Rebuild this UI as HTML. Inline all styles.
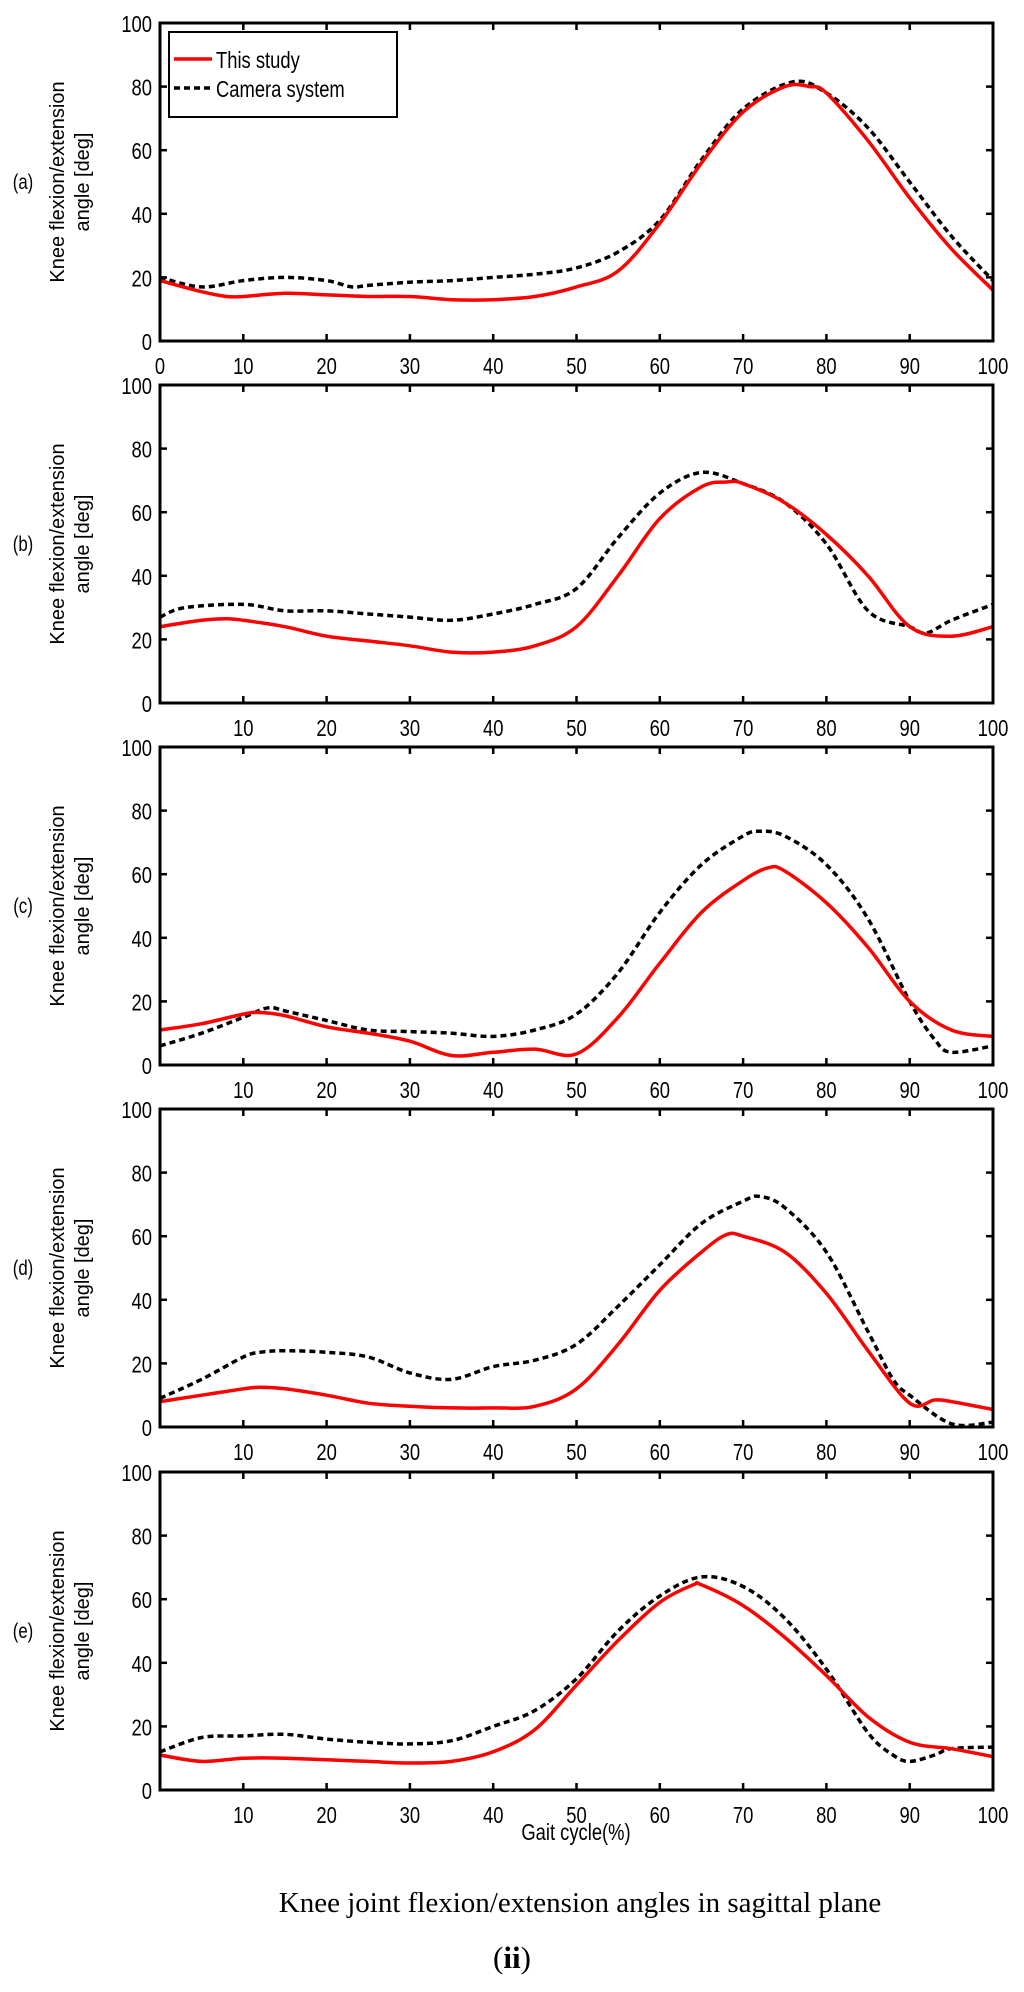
<!DOCTYPE html>
<html><head><meta charset="utf-8"><style>
body{margin:0;background:#fff;}
svg{display:block;}
.t{font-family:"Liberation Sans",sans-serif;font-size:23px;fill:#000;}
</style></head><body>
<svg id="fig" width="1024" height="1992" viewBox="0 0 1024 1992" xmlns="http://www.w3.org/2000/svg">
<text x="580" y="1912" text-anchor="middle" style="font-family:'Liberation Serif',serif;font-size:29px">Knee joint flexion/extension angles in sagittal plane</text>
<text x="512" y="1968" text-anchor="middle" style="font-family:'Liberation Serif',serif;font-size:31px">(<tspan font-weight="bold">ii</tspan>)</text>
<text class="t" x="0" y="0" text-anchor="middle" transform="translate(576,1840) scale(0.8,1)">Gait cycle(%)</text>
</svg>
<script>
const panelLabels=["(a)","(b)","(c)","(d)","(e)"];
const xTicks=[0,10,20,30,40,50,60,70,80,90,100];
const yTicks=[0,20,40,60,80,100];
const redX=[
[0,5,8,10,15,20,25,30,35,40,45,50,55,60,65,70,75,78,80,85,90,95,100],
[0,5,8,10,15,20,25,30,35,40,45,50,55,60,65,68,70,75,80,85,90,95,100],
[0,5,10,12,15,20,25,30,35,40,45,50,55,60,65,70,73,75,80,85,90,95,100],
[0,5,10,12,15,20,25,30,35,40,45,50,55,60,65,68,70,75,80,85,90,93,95,100],
[0,5,10,15,20,25,30,35,40,45,50,55,60,64,65,70,75,80,85,90,95,100]];
const redY=[
[19,15.5,14,14,15,14.5,14,14,13,13,14,17,22,37,56,72,80,80,78,63,45,29,16],
[24,26,26.5,26,24,21,19.5,18,16,16,18,24,40,58,68,69.5,69,63,53,40,24,21,24],
[11,13,16,16.5,15.5,12,10,7.5,3,4,5,3.5,15,32,48,58,62,61,51,37,20,11,9],
[8,10,12,12.5,12,10,7.5,6.5,6,6,6.5,12,26,43,55,60.5,60,55,42,24,7.5,8.5,8,5.5],
[11,9,10,10,9.5,9,8.5,9,12,19,33,47,59,64.5,64.5,58,48,36,23,15,13,10.5]];
const camX=[
[0,5,10,15,20,23,25,30,35,40,45,50,55,60,65,70,76,80,85,90,95,100],
[0,3,10,15,20,25,30,35,40,45,50,55,60,65,70,75,80,85,90,92,95,100],
[0,5,10,13,15,20,25,30,35,40,45,50,55,60,65,70,72,75,80,85,90,93,95,100],
[0,5,10,12,15,20,25,30,35,40,45,50,55,60,65,70,72,75,80,85,88,90,95,100],
[0,5,10,15,20,25,30,35,40,45,50,55,60,65,70,75,80,85,88,90,93,95,100]];
const camY=[
[20,17,19,20,19,17,17.5,18.5,19,20,21,23,28,38,57,73,81.5,78,67,50,33,19],
[27,30,31,29,29,28,27,26,28,31,36,52,66,72.5,69,63,50,29,24,22,26,31],
[6,10,15,18,17,14,11,10.5,10,9,11,16,29,48,63,72,73.5,72,63,46,20,8,4,6],
[9,15,22,23.5,24,23.5,22,17,15,19,21,26,38,51,64,71,72.5,69,55,30,15,10,1,1.5],
[12,16.5,17,17.5,16,15,14.5,15.5,20,25,35,50,61,67,64,54,38,18,11,9,11,13,13.5]];

const NS="http://www.w3.org/2000/svg";
const svg=document.getElementById('fig');
const L=160,R=993,H=318,tops=[23,385,747,1109,1472];
function mk(tag,attrs,parent){const e=document.createElementNS(NS,tag);for(const k in attrs)e.setAttribute(k,attrs[k]);(parent||svg).appendChild(e);return e;}
function path(xs,ys,sx,sy){
  const p=xs.map((x,i)=>[sx(x),sy(ys[i])]);
  let d="M"+p[0][0].toFixed(1)+","+p[0][1].toFixed(1);
  for(let i=0;i<p.length-1;i++){
    const p0=p[Math.max(0,i-1)],p1=p[i],p2=p[i+1],p3=p[Math.min(p.length-1,i+2)];
    const c1=[p1[0]+(p2[0]-p0[0])/6,p1[1]+(p2[1]-p0[1])/6];
    const c2=[p2[0]-(p3[0]-p1[0])/6,p2[1]-(p3[1]-p1[1])/6];
    d+=` C${c1[0].toFixed(1)},${c1[1].toFixed(1)} ${c2[0].toFixed(1)},${c2[1].toFixed(1)} ${p2[0].toFixed(1)},${p2[1].toFixed(1)}`;
  }
  return d;
}
tops.forEach((T,pi)=>{
  const g=mk('g',{});
  
  
  const sx=v=>L+(R-L)*v/100, sy=v=>T+H-H*v/100;
  xTicks.forEach(v=>{
    const x=sx(v);
    mk('line',{x1:x,x2:x,y1:T+H,y2:T+H-7,stroke:'#000','stroke-width':2.5},g);
    mk('line',{x1:x,x2:x,y1:T,y2:T+7,stroke:'#000','stroke-width':2.5},g);
    if(pi===0||v>0){
      const t=mk('text',{class:'t',x:0,y:0,'text-anchor':'middle',transform:`translate(${x},${T+H+33}) scale(0.8,1)`},g);
      
      
      t.textContent=v;
    }
  });
  yTicks.forEach(v=>{
    const y=sy(v);
    mk('line',{x1:L,x2:L+7,y1:y,y2:y,stroke:'#000','stroke-width':2.5},g);
    mk('line',{x1:R,x2:R-7,y1:y,y2:y,stroke:'#000','stroke-width':2.5},g);
    const t=mk('text',{class:'t',x:0,y:0,'text-anchor':'end',transform:`translate(${L-8},${y+9}) scale(0.8,1)`},g);
    
    
    t.textContent=v;
  });
  const yl=mk('text',{x:0,y:0,'text-anchor':'middle',style:'font-family:"Liberation Sans",sans-serif;font-size:20px',transform:`translate(64,${T+H/2}) rotate(-90)`},g);
  
  
  yl.innerHTML=`<tspan x="0" dy="0">Knee flexion/extension</tspan><tspan x="0" dy="25">angle [deg]</tspan>`;
  const pl=mk('text',{x:0,y:0,'text-anchor':'middle',style:'font-family:"Liberation Sans",sans-serif;font-size:21px',transform:`translate(23,${T+H/2+7}) scale(0.8,1)`},g);
  
  
  pl.textContent=panelLabels[pi];
  const cp=mk('path',{d:path(camX[pi],camY[pi],sx,sy),fill:'none',stroke:'#000','stroke-width':3.5,'stroke-dasharray':'6,4'},g);
  
  
  const rp=mk('path',{d:path(redX[pi],redY[pi],sx,sy),fill:'none',stroke:'#f00','stroke-width':3.5},g);
  
  
  const fr=mk('rect',{x:L,y:T,width:R-L,height:H,fill:'none',stroke:'#000','stroke-width':3},g);
  
  
  if(pi===0){
    const lg=mk('g',{});
    
    
    mk('rect',{x:169,y:32,width:228,height:85,fill:'#fff',stroke:'#000','stroke-width':2},lg);
    mk('line',{x1:174,x2:212,y1:59,y2:59,stroke:'#f00','stroke-width':3.5},lg);
    mk('line',{x1:174,x2:212,y1:88,y2:88,stroke:'#000','stroke-width':3.5,'stroke-dasharray':'6,4'},lg);
    const t1=mk('text',{class:'t',x:0,y:0,transform:'translate(216,68) scale(0.8,1)'},lg);
    
    
    t1.textContent='This study';
    const t2=mk('text',{class:'t',x:0,y:0,transform:'translate(216,97) scale(0.8,1)'},lg);
    
    
    t2.textContent='Camera system';
  }
});
</script>
</body></html>
